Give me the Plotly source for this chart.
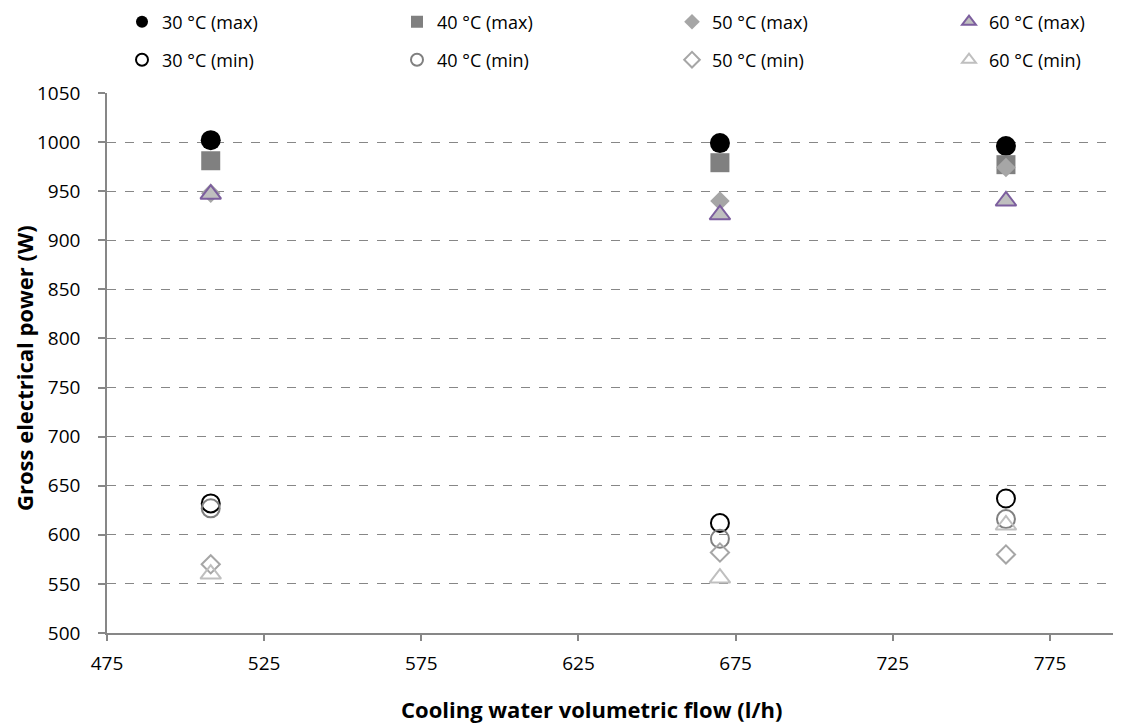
import plotly.graph_objects as go

flow = [508, 670, 761]

max_30 = [1002, 999, 996]
max_40 = [981, 979, 977]
max_50 = [948, 940, 974]
max_60 = [947, 926, 940]

min_30 = [632, 612, 637]
min_40 = [627, 596, 616]
min_50 = [570, 582, 580]
min_60 = [560, 556, 610]

x_ticks = [475, 525, 575, 625, 675, 725, 775]
y_ticks = [500, 550, 600, 650, 700, 750, 800, 850, 900, 950, 1000, 1050]

FONT = "Open Sans"
GRID = "#878787"
# page body adds an 8px offset, so the figure is sized to the visible area
OFF = 8
W, H = 1121 - OFF, 724 - OFF
L, T, B, R = 107 - OFF, 93 - OFF, H - (633 - OFF), 0
PW, PH = W - L - R, H - T - B

fig = go.Figure()

series = [
    ("30 °C (max)", max_30, dict(symbol="circle", size=20, color="#000000", line=dict(width=0))),
    ("40 °C (max)", max_40, dict(symbol="square", size=19, color="#808080", line=dict(width=0))),
    ("50 °C (max)", max_50, dict(symbol="diamond", size=15, color="#a6a6a6", line=dict(width=0))),
    ("60 °C (max)", max_60, dict(symbol="triangle-up", size=18, color="#bfbfbf", line=dict(width=2, color="#7c5e9e"))),
    ("30 °C (min)", min_30, dict(symbol="circle-open", size=18, color="#000000", line=dict(width=2))),
    ("40 °C (min)", min_40, dict(symbol="circle-open", size=18, color="#808080", line=dict(width=2))),
    ("50 °C (min)", min_50, dict(symbol="diamond-open", size=14, color="#a6a6a6", line=dict(width=2))),
    ("60 °C (min)", min_60, dict(symbol="triangle-up-open", size=18, color="#bfbfbf", line=dict(width=2))),
]

# legend slots: marker centre x and row centre y (screen pixels)
col_x = [141, 416, 691, 968]
row_y = [22, 60]

legends = {}
for i, (name, vals, mk) in enumerate(series):
    key = "legend" if i == 0 else f"legend{i + 1}"
    fig.add_trace(go.Scatter(x=flow, y=vals, mode="markers", name=name,
                             marker=mk, legend=key, cliponaxis=False))
    cx = col_x[i % 4] - OFF
    cy = row_y[i // 4] - OFF
    legends[key] = dict(
        orientation="v", xref="container", yref="container",
        x=(cx - 19) / W, xanchor="left",
        y=1 - cy / H, yanchor="middle",
        itemsizing="constant", itemwidth=30,
        font=dict(family=FONT, size=18, color="#000000"),
        bgcolor="rgba(0,0,0,0)",
    )

fig.update_layout(
    width=W, height=H,
    margin=dict(l=L, r=R, t=T, b=B, autoexpand=False),
    paper_bgcolor="white", plot_bgcolor="white",
    font=dict(family=FONT, size=18, color="#000000"),
    showlegend=True,
    xaxis=dict(
        range=[475, 797.6], tickvals=x_ticks, ticktext=[str(v) for v in x_ticks],
        showgrid=False, zeroline=False, automargin=False,
        showline=True, linecolor=GRID, linewidth=1.5,
        ticks="outside", ticklen=6, tickcolor=GRID, tickwidth=1.5,
        ticklabelstandoff=6,
        tickfont=dict(family=FONT, size=19),
    ),
    yaxis=dict(
        range=[500, 1050], tickvals=y_ticks, ticktext=[str(v) for v in y_ticks],
        showgrid=True, gridcolor=GRID, griddash="dash", gridwidth=1,
        zeroline=False, automargin=False,
        showline=True, linecolor=GRID, linewidth=1.5,
        ticks="outside", ticklen=7, tickcolor=GRID, tickwidth=1.5,
        ticklabelstandoff=14,
        tickfont=dict(family=FONT, size=19),
    ),
    annotations=[
        dict(text="<b>Cooling water volumetric flow (l/h)</b>",
             xref="paper", yref="paper",
             x=((591 - OFF) - L) / PW, y=((H - B) - (709 - OFF)) / PH,
             xanchor="center", yanchor="middle", showarrow=False,
             font=dict(family=FONT, size=22)),
        dict(text="<b>Gross electrical power (W)</b>", textangle=-90,
             xref="paper", yref="paper",
             x=((24 - OFF) - L) / PW, y=((H - B) - (368 - OFF)) / PH,
             xanchor="center", yanchor="middle", showarrow=False,
             font=dict(family=FONT, size=22)),
    ],
    **legends,
)

fig.write_html("out.html")
